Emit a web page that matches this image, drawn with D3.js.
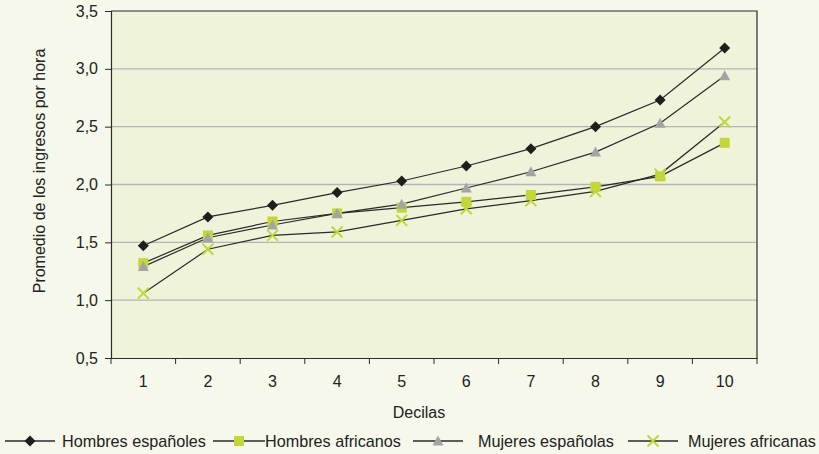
<!DOCTYPE html>
<html>
<head>
<meta charset="utf-8">
<script src="https://cdn.jsdelivr.net/npm/d3@7"></script>
<style>
  html, body { margin: 0; padding: 0; background: #f5f8ea; }
  svg { display: block; font-family: "Liberation Sans", Arial, sans-serif; }
</style>
</head>
<body>
<svg id="chart" width="819" height="454"></svg>
<script>
// Average hourly earnings by decile
const deciles = [1, 2, 3, 4, 5, 6, 7, 8, 9, 10];
const hombresEspanoles = [1.47, 1.72, 1.82, 1.93, 2.03, 2.16, 2.31, 2.50, 2.73, 3.18];
const hombresAfricanos = [1.32, 1.56, 1.68, 1.75, 1.80, 1.85, 1.91, 1.98, 2.07, 2.36];
const mujeresEspanolas = [1.29, 1.54, 1.65, 1.75, 1.83, 1.97, 2.11, 2.28, 2.53, 2.94];
const mujeresAfricanas = [1.06, 1.44, 1.56, 1.59, 1.69, 1.79, 1.86, 1.94, 2.09, 2.54];
const yTicks = [0.5, 1.0, 1.5, 2.0, 2.5, 3.0, 3.5];

const series = [
  { name: "Hombres españoles", values: hombresEspanoles, marker: "diamond", color: "#1e1e1e" },
  { name: "Hombres africanos", values: hombresAfricanos, marker: "square", color: "#c3d63a" },
  { name: "Mujeres españolas", values: mujeresEspanolas, marker: "triangle", color: "#a3a3a8" },
  { name: "Mujeres africanas", values: mujeresAfricanas, marker: "cross", color: "#c3d63a" }
];

const svg = d3.select("#chart");
const plot = { left: 111, top: 11, right: 757, bottom: 358 };

const x = d3.scaleBand().domain(deciles).range([plot.left, plot.right]);
const y = d3.scaleLinear().domain([0.5, 3.5]).range([plot.bottom, plot.top]);
const fmt = d => d3.format(".1f")(d).replace(".", ",");

// plot background
svg.append("rect")
  .attr("x", plot.left).attr("y", plot.top)
  .attr("width", plot.right - plot.left).attr("height", plot.bottom - plot.top)
  .attr("fill", "#eff3d9");

// horizontal gridlines
svg.append("g").selectAll("line")
  .data(yTicks.slice(1, -1))
  .join("line")
  .attr("x1", plot.left).attr("x2", plot.right)
  .attr("y1", d => y(d)).attr("y2", d => y(d))
  .attr("stroke", "#b4b4b6").attr("stroke-width", 1.3);

// frame: top and right edges
svg.append("path")
  .attr("d", `M${plot.left},${plot.top}H${plot.right}V${plot.bottom}`)
  .attr("fill", "none").attr("stroke", "#2a2a2a").attr("stroke-width", 1.2);

// y axis
const yAxis = svg.append("g")
  .attr("transform", `translate(${plot.left},0)`)
  .call(d3.axisLeft(y).tickValues(yTicks).tickFormat(fmt).tickSize(6).tickPadding(7));
yAxis.select(".domain").attr("stroke", "#2a2a2a").attr("stroke-width", 1.2);
yAxis.selectAll(".tick line").attr("stroke", "#2a2a2a");
yAxis.selectAll("text").attr("font-size", 16).attr("fill", "#222")
  .attr("font-family", "Liberation Sans, Arial, sans-serif");

// x axis with ticks at category boundaries
const xAxis = svg.append("g")
  .attr("transform", `translate(0,${plot.bottom})`)
  .call(d3.axisBottom(x).tickSize(0).tickPadding(18));
xAxis.select(".domain").attr("stroke", "#2a2a2a").attr("stroke-width", 1.2);
xAxis.selectAll("text").attr("font-size", 16).attr("fill", "#222")
  .attr("font-family", "Liberation Sans, Arial, sans-serif");
xAxis.selectAll(".bound")
  .data(deciles.concat([null]))
  .join("line")
  .attr("class", "bound")
  .attr("x1", (d, i) => plot.left + i * x.step())
  .attr("x2", (d, i) => plot.left + i * x.step())
  .attr("y1", 0).attr("y2", 6)
  .attr("stroke", "#2a2a2a");

// axis titles
svg.append("text")
  .attr("transform", "translate(45,171) rotate(-90)")
  .attr("text-anchor", "middle")
  .attr("font-size", 16).attr("fill", "#222")
  .text("Promedio de los ingresos por hora");
svg.append("text")
  .attr("x", 419).attr("y", 418)
  .attr("text-anchor", "middle")
  .attr("font-size", 16).attr("fill", "#222")
  .text("Decilas");

// marker drawing
function drawMarker(g, type, color) {
  if (type === "diamond") {
    g.append("path").attr("d", "M0,-5.5L5.5,0L0,5.5L-5.5,0Z").attr("fill", color);
  } else if (type === "square") {
    g.append("rect").attr("x", -5).attr("y", -5).attr("width", 10).attr("height", 10).attr("fill", color);
  } else if (type === "triangle") {
    g.append("path").attr("d", "M0,-5.5L5.5,4.5L-5.5,4.5Z").attr("fill", color);
  } else if (type === "cross") {
    g.append("path").attr("d", "M-5.5,-5.5L5.5,5.5M5.5,-5.5L-5.5,5.5")
      .attr("stroke", color).attr("stroke-width", 2).attr("fill", "none");
  }
}

const line = d3.line()
  .x((d, i) => x(deciles[i]) + x.bandwidth() / 2)
  .y(d => y(d));

// lines
series.forEach(s => {
  svg.append("path")
    .datum(s.values)
    .attr("d", line)
    .attr("fill", "none")
    .attr("stroke", "#2a2a2a")
    .attr("stroke-width", 1.2);
});

// markers
series.forEach(s => {
  s.values.forEach((v, i) => {
    const g = svg.append("g")
      .attr("transform", `translate(${x(deciles[i]) + x.bandwidth() / 2},${y(v)})`);
    drawMarker(g, s.marker, s.color);
  });
});

// legend
const legendItems = [
  { lx1: 5, lx2: 55, tx: 62 },
  { lx1: 213, lx2: 265, tx: 265 },
  { lx1: 413, lx2: 463, tx: 478 },
  { lx1: 628, lx2: 678, tx: 688 }
];
const ly = 441;
series.forEach((s, i) => {
  const it = legendItems[i];
  const g = svg.append("g");
  g.append("line")
    .attr("x1", it.lx1).attr("x2", it.lx2).attr("y1", ly).attr("y2", ly)
    .attr("stroke", "#2a2a2a").attr("stroke-width", 1.6);
  const m = g.append("g").attr("transform", `translate(${(it.lx1 + it.lx2) / 2},${ly})`);
  drawMarker(m, s.marker, s.color);
  g.append("text")
    .attr("x", it.tx).attr("y", 447)
    .attr("font-size", 16.2).attr("fill", "#222")
    .text(s.name);
});
</script>
</body>
</html>
